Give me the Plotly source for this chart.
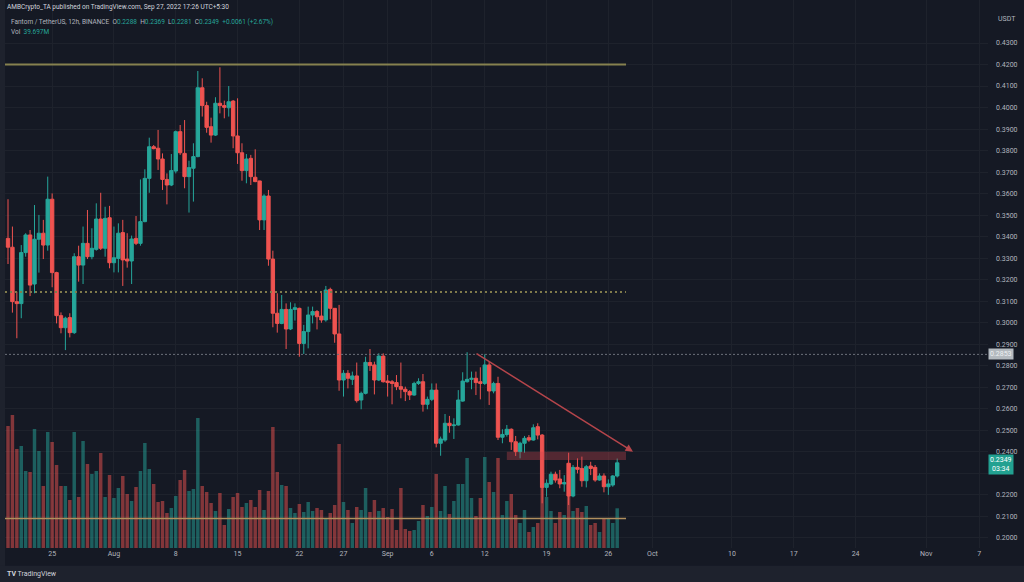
import pandas as pd
import plotly.graph_objects as go

# 12h candles, FTM/USDT (Binance)
opens = [0.3392, 0.3351, 0.3098, 0.3089, 0.3326, 0.3408, 0.3180, 0.3388, 0.3416, 0.3361,
         0.3574, 0.3233, 0.3033, 0.2977, 0.3024, 0.2954, 0.3307, 0.3268, 0.3369, 0.3307,
         0.3341, 0.3482, 0.3346, 0.3488, 0.3279, 0.3299, 0.3419, 0.3296, 0.3287, 0.3392,
         0.3369, 0.3470, 0.3671, 0.3818, 0.3811, 0.3761, 0.3666, 0.3640, 0.3705, 0.3888,
         0.3787, 0.3679, 0.3718, 0.3772, 0.4092, 0.4009, 0.3911, 0.3872, 0.4020, 0.4009,
         0.3999, 0.4030, 0.3868, 0.3790, 0.3707, 0.3764, 0.3676, 0.3659, 0.3478, 0.3589,
         0.3296, 0.3044, 0.2997, 0.3062, 0.2971, 0.3062, 0.3067, 0.2904, 0.2959, 0.3036,
         0.3052, 0.3031, 0.3013, 0.3155, 0.3067, 0.2948, 0.2734, 0.2765, 0.2737, 0.2753,
         0.2641, 0.2672, 0.2815, 0.2804, 0.2734, 0.2845, 0.2729, 0.2726, 0.2722, 0.2703,
         0.2691, 0.2680, 0.2664, 0.2718, 0.2726, 0.2621, 0.2644, 0.2687, 0.2440, 0.2455,
         0.2533, 0.2522, 0.2525, 0.2636, 0.2726, 0.2737, 0.2742, 0.2726, 0.2718, 0.2804,
         0.2683, 0.2718, 0.2468, 0.2481, 0.2505, 0.2447, 0.2401, 0.2440, 0.2466, 0.2455,
         0.2517, 0.2478, 0.2235, 0.2251, 0.2296, 0.2274, 0.2251, 0.2347, 0.2195, 0.2328,
         0.2323, 0.2266, 0.2334, 0.2328, 0.2269, 0.2288, 0.2238, 0.2246, 0.2288]
highs = [0.3574, 0.3447, 0.3144, 0.3361, 0.3416, 0.3431, 0.3547, 0.3501, 0.3478, 0.3679,
         0.3601, 0.3237, 0.3048, 0.3028, 0.3044, 0.3323, 0.3358, 0.3447, 0.3524, 0.3439,
         0.3555, 0.3604, 0.3539, 0.3543, 0.3447, 0.3462, 0.3478, 0.3416, 0.3405, 0.3496,
         0.3666, 0.3713, 0.3860, 0.3826, 0.3896, 0.3787, 0.3694, 0.3784, 0.3893, 0.3919,
         0.3942, 0.3753, 0.3834, 0.4170, 0.4136, 0.4027, 0.3953, 0.4048, 0.4187, 0.4032,
         0.4100, 0.4035, 0.4043, 0.3834, 0.3784, 0.3780, 0.3806, 0.3660, 0.3597, 0.3617,
         0.3335, 0.3137, 0.3129, 0.3090, 0.3095, 0.3090, 0.3070, 0.2990, 0.3075, 0.3075,
         0.3059, 0.3144, 0.3171, 0.3163, 0.3067, 0.3083, 0.2780, 0.2780, 0.2773, 0.2815,
         0.2680, 0.2842, 0.2878, 0.2819, 0.2858, 0.2858, 0.2757, 0.2734, 0.2757, 0.2815,
         0.2703, 0.2687, 0.2726, 0.2742, 0.2762, 0.2657, 0.2718, 0.2718, 0.2471, 0.2576,
         0.2567, 0.2556, 0.2687, 0.2770, 0.2863, 0.2773, 0.2773, 0.2793, 0.2853, 0.2819,
         0.2726, 0.2749, 0.2505, 0.2525, 0.2509, 0.2474, 0.2447, 0.2474, 0.2478, 0.2528,
         0.2533, 0.2483, 0.2272, 0.2308, 0.2308, 0.2316, 0.2292, 0.2396, 0.2339, 0.2370,
         0.2378, 0.2339, 0.2354, 0.2339, 0.2300, 0.2300, 0.2272, 0.2292, 0.2369]
lows = [0.3273, 0.3047, 0.2928, 0.3021, 0.3307, 0.3124, 0.3137, 0.3233, 0.3296, 0.3335,
        0.3165, 0.2997, 0.2951, 0.2873, 0.2932, 0.2948, 0.3191, 0.3180, 0.3296, 0.3295,
        0.3335, 0.3338, 0.3307, 0.3253, 0.3234, 0.3234, 0.3171, 0.3256, 0.3180, 0.3361,
        0.3358, 0.3467, 0.3604, 0.3806, 0.3710, 0.3617, 0.3550, 0.3635, 0.3694, 0.3780,
        0.3625, 0.3512, 0.3563, 0.3769, 0.3958, 0.3883, 0.3837, 0.3868, 0.3973, 0.3950,
        0.3958, 0.3811, 0.3738, 0.3660, 0.3648, 0.3640, 0.3653, 0.3431, 0.3431, 0.3265,
        0.2979, 0.2954, 0.2993, 0.2878, 0.2966, 0.3010, 0.2842, 0.2855, 0.2881, 0.2997,
        0.2969, 0.3000, 0.3005, 0.3016, 0.2907, 0.2684, 0.2657, 0.2695, 0.2711, 0.2629,
        0.2598, 0.2667, 0.2776, 0.2667, 0.2729, 0.2722, 0.2657, 0.2621, 0.2687, 0.2649,
        0.2636, 0.2641, 0.2661, 0.2711, 0.2587, 0.2598, 0.2636, 0.2421, 0.2382, 0.2447,
        0.2489, 0.2460, 0.2522, 0.2633, 0.2722, 0.2691, 0.2664, 0.2644, 0.2711, 0.2618,
        0.2672, 0.2455, 0.2440, 0.2471, 0.2409, 0.2381, 0.2370, 0.2396, 0.2447, 0.2452,
        0.2458, 0.2161, 0.2192, 0.2246, 0.2257, 0.2231, 0.2215, 0.2153, 0.2189, 0.2300,
        0.2238, 0.2235, 0.2292, 0.2261, 0.2266, 0.2212, 0.2200, 0.2238, 0.2281]
closes = [0.3351, 0.3098, 0.3089, 0.3326, 0.3408, 0.3175, 0.3388, 0.3416, 0.3361, 0.3574,
          0.3233, 0.3033, 0.2977, 0.3021, 0.2954, 0.3307, 0.3268, 0.3369, 0.3307, 0.3346,
          0.3482, 0.3346, 0.3485, 0.3279, 0.3302, 0.3416, 0.3292, 0.3287, 0.3389, 0.3369,
          0.3470, 0.3671, 0.3818, 0.3809, 0.3761, 0.3666, 0.3640, 0.3707, 0.3888, 0.3790,
          0.3679, 0.3721, 0.3772, 0.4092, 0.4009, 0.3908, 0.3872, 0.4020, 0.4009, 0.4001,
          0.4027, 0.3868, 0.3790, 0.3707, 0.3761, 0.3679, 0.3656, 0.3478, 0.3589, 0.3296,
          0.3044, 0.2997, 0.3062, 0.2971, 0.3062, 0.3070, 0.2904, 0.2959, 0.3036, 0.3052,
          0.3028, 0.3013, 0.3152, 0.3067, 0.2948, 0.2734, 0.2765, 0.2742, 0.2753, 0.2638,
          0.2672, 0.2816, 0.2801, 0.2734, 0.2845, 0.2726, 0.2722, 0.2718, 0.2703, 0.2691,
          0.2680, 0.2664, 0.2718, 0.2726, 0.2621, 0.2644, 0.2687, 0.2440, 0.2460, 0.2533,
          0.2522, 0.2525, 0.2641, 0.2729, 0.2737, 0.2742, 0.2722, 0.2718, 0.2804, 0.2683,
          0.2718, 0.2468, 0.2481, 0.2505, 0.2447, 0.2401, 0.2440, 0.2463, 0.2455, 0.2512,
          0.2478, 0.2235, 0.2254, 0.2296, 0.2269, 0.2251, 0.2257, 0.2195, 0.2328, 0.2319,
          0.2266, 0.2331, 0.2323, 0.2269, 0.2288, 0.2238, 0.2251, 0.2288, 0.2349]
volumes_m = [122, 133, 99, 102, 77, 76, 119, 97, 62, 116, 106, 83, 62, 62, 48, 116, 51, 107,
             84, 74, 77, 95, 51, 73, 50, 60, 72, 54, 47, 61, 77, 105, 79, 64, 46,
             47, 35, 40, 52, 68, 78, 57, 59, 130, 62, 56, 45, 37, 55, 23, 39, 51, 55,
             41, 45, 48, 41, 58, 38, 57, 121, 76, 63, 62, 40, 35, 44, 36, 46, 37,
             40, 38, 29, 35, 43, 104, 46, 38, 25, 41, 38, 60, 36, 48, 37, 40, 31, 39,
             18, 60, 19, 17, 18, 27, 43, 32, 41, 74, 37, 62, 34, 47, 64, 64, 90,
             50, 32, 50, 91, 66, 56, 90, 33, 47, 54, 33, 25, 38, 16, 21, 25, 65, 51,
             37, 25, 36, 33, 85, 37, 40, 36, 42, 23, 25, 16, 29, 30, 25, 39.697]

times = pd.date_range("2022-07-20 00:00", periods=len(closes), freq="12h")

tick_dates = ["2022-07-25", "2022-08-01", "2022-08-08", "2022-08-15", "2022-08-22",
              "2022-08-27", "2022-09-01", "2022-09-06", "2022-09-12", "2022-09-19",
              "2022-09-26", "2022-10-01", "2022-10-10", "2022-10-17", "2022-10-24",
              "2022-11-01", "2022-11-07"]
tick_text = ["25", "Aug", "8", "15", "22", "27", "Sep", "6", "12", "19", "26",
             "Oct", "10", "17", "24", "Nov", "7"]
price_ticks = [round(0.20 + 0.01 * i, 2) for i in range(24)]
# 0.2300 sits under the last-price tag, so its label is hidden
price_text = ["" if abs(p - 0.23) < 1e-9 else f"{p:.4f}" for p in price_ticks]

# drawn levels
resistance_top = 0.4200
mid_level = 0.3143
prior_high = 0.2853
support_low = 0.2090
zone_top, zone_bottom = 0.2401, 0.2362
trend_start = ("2022-09-10 21:30", 0.2861)
trend_end = ("2022-09-28 19:00", 0.2401)

BG = "#151924"
UP, DOWN = "#26a69a", "#ef5350"
x_start, x_end = "2022-07-19 15:50", "2022-11-08 00:00"
draw_end = "2022-09-28 00:00"

vol_colors = ["rgba(38,166,154,0.5)" if c >= o else "rgba(239,83,80,0.5)"
              for o, c in zip(opens, closes)]

fig = go.Figure()
fig.add_trace(go.Bar(x=times, y=volumes_m, yaxis="y2", marker_color=vol_colors,
                     marker_line_width=0, width=34000000, hoverinfo="skip"))
fig.add_trace(go.Candlestick(
    x=times, open=opens, high=highs, low=lows, close=closes,
    increasing=dict(line=dict(color=UP, width=1), fillcolor=UP),
    decreasing=dict(line=dict(color=DOWN, width=1), fillcolor=DOWN),
    whiskerwidth=0))

shapes = [
    dict(type="line", xref="x", yref="y", x0=x_start, x1=draw_end, y0=resistance_top,
         y1=resistance_top, line=dict(color="#86814f", width=2)),
    dict(type="line", xref="x", yref="y", x0=x_start, x1=draw_end, y0=mid_level,
         y1=mid_level, line=dict(color="#807b4c", width=2, dash="2px,3px")),
    dict(type="line", xref="x", yref="y", x0=x_start, x1=x_end, y0=prior_high,
         y1=prior_high, line=dict(color="#6d707a", width=1, dash="2px,2px")),
    dict(type="line", xref="x", yref="y", x0=x_start, x1=draw_end, y0=support_low,
         y1=support_low, line=dict(color="#b08f5e", width=1.5)),
    dict(type="rect", xref="x", yref="y", x0="2022-09-14 12:00", x1=draw_end,
         y0=zone_bottom, y1=zone_top, fillcolor="rgba(200,70,78,0.35)",
         line=dict(width=0)),
    # side strip and footer
    dict(type="rect", xref="paper", yref="paper", x0=-0.006, x1=0, y0=-0.035, y1=1,
         fillcolor="#1e222d", line=dict(width=0), layer="below"),
    dict(type="rect", xref="paper", yref="paper", x0=-0.006, x1=1.04, y0=-0.065,
         y1=-0.0325, fillcolor="#1e222d", line=dict(width=0)),
]

hdr = dict(xref="paper", yref="paper", xanchor="left", yanchor="middle",
           showarrow=False, align="left")
g = lambda s: f"<span style='color:#26a69a'>{s}</span>"
w = lambda s: f"<span style='color:#b2b5be'>{s}</span>"
annotations = [
    dict(text="AMBCrypto_TA published on TradingView.com, Sep 27, 2022 17:26 UTC+5:30",
         x=0.0, y=1 - 7 / 548, font=dict(size=6.5, color="#d1d4dc"), **hdr),
    dict(text=w("Fantom / TetherUS, 12h, BINANCE  ") + w("O") + g("0.2288") + w("  H")
         + g("0.2369") + w("  L") + g("0.2281") + w("  C") + g("0.2349  +0.0061 (+2.67%)"),
         x=0.004, y=1 - 22 / 548, font=dict(size=6.5), **hdr),
    dict(text=w("Vol  ") + g("39.697M"), x=0.004, y=1 - 32 / 548,
         font=dict(size=6.5), **hdr),
    dict(text="USDT", x=1.008, y=1 - 19 / 548, font=dict(size=7, color="#b2b5be"), **hdr),
    dict(text="<b>TV</b> TradingView", x=0.0, y=-0.0475, font=dict(size=7, color="#d1d4dc"),
         **hdr),
    dict(text="0.2853", xref="paper", yref="y", x=1.0, y=prior_high, xanchor="left",
         yanchor="middle", showarrow=False, bgcolor="#b3b9bf", borderpad=1,
         font=dict(size=7, color="#eef0f2")),
    dict(text="0.2349<br>03:34", xref="paper", yref="y", x=1.0, y=0.2340, xanchor="left",
         yanchor="middle", showarrow=False, bgcolor="#22a191", borderpad=1,
         font=dict(size=7, color="#ffffff")),
    dict(x=trend_end[0], y=trend_end[1], ax=trend_start[0], ay=trend_start[1],
         xref="x", yref="y", axref="x", ayref="y", text="", showarrow=True,
         arrowhead=2, arrowsize=1, arrowwidth=1.5, arrowcolor="#b5454b"),
]

fig.update_layout(
    width=1024, height=582,
    margin=dict(l=5, r=36, t=0, b=34),
    paper_bgcolor=BG, plot_bgcolor=BG,
    showlegend=False, boxgap=0.15, boxgroupgap=0.1,
    font=dict(family="Roboto", color="#b2b5be", size=7),
    shapes=shapes, annotations=annotations,
    xaxis=dict(type="date", range=[x_start, x_end], rangeslider=dict(visible=False),
               tickvals=tick_dates, ticktext=tick_text, showgrid=True,
               gridcolor="#1e222c", gridwidth=1, zeroline=False, showline=False,
               ticks="", tickfont=dict(size=7, color="#b2b5be")),
    yaxis=dict(side="right", range=[0.19533, 0.44998], tickvals=price_ticks,
               ticktext=price_text, showgrid=True, gridcolor="#1e222c", zeroline=False,
               ticks="", ticklabelstandoff=7, tickfont=dict(size=7, color="#b2b5be")),
    yaxis2=dict(overlaying="y", range=[0, 548], visible=False, showgrid=False),
)

fig.write_html("out.html", config={"displayModeBar": False},
               post_script="document.body.style.margin='0';document.body.style.background='%s';" % BG)
